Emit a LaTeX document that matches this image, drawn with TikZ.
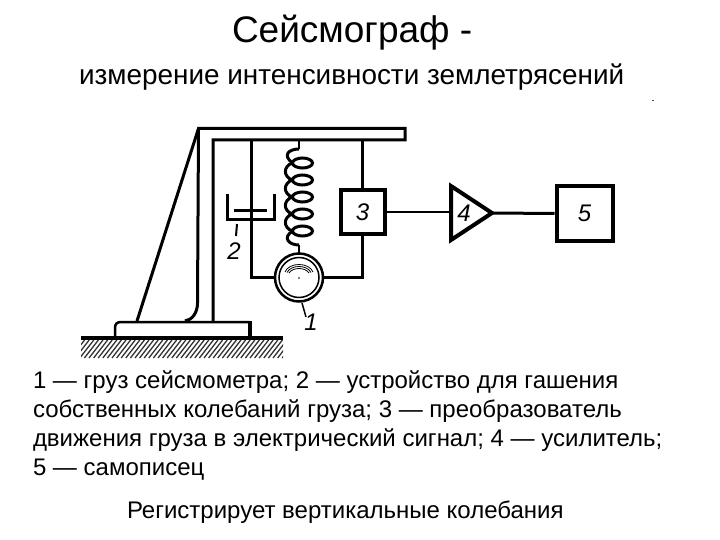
\documentclass[tikz,border=0pt]{standalone}
\usepackage{fontspec}
\setmainfont{Liberation Sans}
\tikzset{
 ln/.style={line width=3pt,line join=miter},
 thinln/.style={line width=2pt},
 txt/.style={anchor=base west,inner sep=0pt,outer sep=0pt},
 body/.style={txt,font=\fontsize{24}{24}\selectfont},
 hnd/.style={inner sep=0pt,font=\fontsize{24}{24}\selectfont\itshape},
 blockbox/.style={draw,line width=4pt,inner sep=0pt,font=\fontsize{24}{24}\selectfont\itshape},
 coil/.style={line width=3pt},
}
\begin{document}
\begin{tikzpicture}[x=1pt,y=-1pt]
\useasboundingbox (0,0) rectangle (720,540);
\node[txt,font=\fontsize{37}{37}\selectfont] (title) at (232,43) {Сейсмограф -};
\node[txt,font=\fontsize{27.9}{28}\selectfont] (sub) at (79,85) {измерение интенсивности землетрясений};
\node[body] (l1) at (33,388.5) {1 — груз сейсмометра; 2 — устройство для гашения};
\node[body] (l2) at (33,417) {собственных колебаний груза; 3 — преобразователь};
\node[body] (l3) at (33,446) {движения груза в электрический сигнал; 4 — усилитель;};
\node[body] (l4) at (33,475) {5 — самописец};
\node[body] (l5) at (127,518) {Регистрирует вертикальные колебания};
\fill[black!70] (651.5,100) rectangle (654,101);
% frame
\draw[ln] (137,321) -- (198.5,128.5) -- (405,128.5) -- (405,140) -- (213,140) -- (213,321);
\draw[ln] (198.5,128.5) -- (197.5,303) .. controls (197.5,313) and (192,320) .. (185,321);
\draw[line width=2.5pt] (115,337) -- (115,328) .. controls (115,324) and (117,322) .. (121,322) -- (250,322);
\draw[line width=4pt] (250,320.8) -- (250,337);
% ground
\draw[line width=4pt] (81,338) -- (283,338);
\begin{scope}
\clip (81,340) rectangle (283,358);
\foreach \i in {0,4.6,...,220} \draw[line width=1.3pt,black!80] (66+\i,358) -- (80+\i,340);
\end{scope}
% damper
\draw[ln] (227,194) -- (227,219.5) -- (274,219.5) -- (274,194);
\draw[ln] (234,211) -- (267,211);
\draw[ln] (251,140) -- (251,277.5) -- (275,277.5);
\draw[thinln] (237,224) -- (236,236);
\node[hnd] (n2) at (234,251) {2};
% spring
\draw[thinln] (299,140) -- (299,149);
\foreach \y in {163,180,197,214,231} \draw[coil] (302.5,\y) ellipse [x radius=10,y radius=5];
\foreach \y in {163,180,197,214} \draw[coil] (292.5,\y) .. controls (283,\y+3) and (283,\y+14) .. (292.5,\y+17);
\draw[coil] (299,149) .. controls (289,149) and (282,155) .. (292.5,163);
\draw[coil] (292.5,231) .. controls (282,238) and (289,245) .. (299,245);
\draw[thinln] (299,245) -- (299,254);
% mass
\node[circle,draw,line width=2.5pt,minimum size=48pt,inner sep=0pt] (mass) at (299,277.5) {};
\draw[line width=1.5pt] (299,277.5) circle [radius=20];
\draw[line width=.8pt] (285,272) .. controls (289,262) and (309,262) .. (313,272);
\draw[line width=.8pt] (287,272.5) .. controls (291,264.5) and (307,264.5) .. (311,272.5);
\draw[line width=.8pt] (289,273) .. controls (293,267) and (305,267) .. (309,273);
\fill (299,278) circle [radius=.8];
\draw[line width=1.5pt] (302,303) -- (306,317);
\node[hnd] (n1) at (311,322) {1};
% blocks
\node[blockbox,minimum width=44pt,minimum height=43pt] (b3) at (362.5,212) {3};
\node[blockbox,minimum width=56pt,minimum height=54pt] (b5) at (584.5,213.5) {5};
\coordinate (t1) at (451,186);
\coordinate (t2) at (451,240);
\coordinate (t3) at (492,213);
\draw[line width=4pt,line join=miter] (t1) -- (t3) -- (t2) -- cycle;
\node[hnd] (n4) at (464,213) {4};
\draw[ln] (362.5,140) -- (b3.north);
\draw[ln] (b3.south) -- (362.5,277.5) -- (mass.east);
\draw[line width=2.5pt] (b3.east) -- (b3.east -| t1);
\draw[line width=3pt] (t3) -- (b5.west);
\end{tikzpicture}
\end{document}
